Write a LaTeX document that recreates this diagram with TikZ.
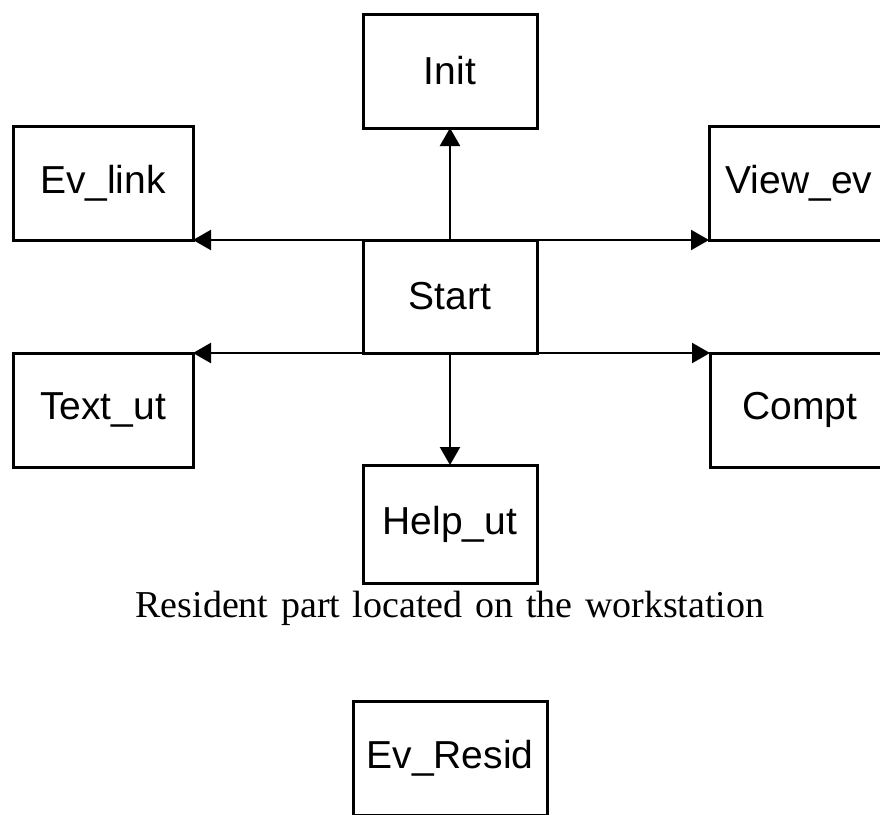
\documentclass[tikz,border=0pt]{standalone}
\usepackage{fontspec}
\setmainfont{Liberation Serif}
\setsansfont{Liberation Sans}
\usetikzlibrary{arrows.meta,positioning}
\tikzset{
  >={Triangle[length=9pt,width=10pt]},
  box/.style={draw,line width=1.5pt,rectangle,outer sep=0pt,minimum width=87pt,minimum height=57pt,inner sep=2pt,align=center,font=\sffamily\fontsize{19.5}{22}\selectfont},
  sidebox/.style={box,minimum width=90pt},
  residbox/.style={box,minimum width=97pt},
  arrow/.style={->,line width=1.2pt},
  caption/.style={font=\fontsize{19}{22}\selectfont,inner sep=0pt},
}

\begin{document}
\begin{tikzpicture}[x=0.5pt,y=-0.5pt]
\useasboundingbox (0,0) rectangle (880,815);

\node[box,minimum height=56.5pt] (start) at (450,296.5) {Start};
\node[box,above=56pt of start] (init) {Init};
\node[box,minimum height=59pt,below=56pt of start] (helput) {Help\_ut};

% side boxes hang off the corners of start
\node[sidebox,left=85pt of start.north west,anchor=south east] (evlink) {Ev\_link};
\node[sidebox,right=86pt of start.north east,anchor=south west] (viewev) {View\_ev};
\node[sidebox,left=85pt of start.south west,anchor=north east] (textut) {Text\_ut};
\node[sidebox,right=86.5pt of start.south east,anchor=north west] (compt) {Compt};

\draw[arrow] (start.north) -- (init.south);
\draw[arrow] (start.south) -- (helput.north);
\draw[arrow] (start.north west) -- (evlink.south east);
\draw[arrow] (start.north east) -- (viewev.south west);
\draw[arrow] (start.south west) -- (textut.north east);
\draw[arrow] (start.south east) -- (compt.north west);

\node[caption,text width=633pt*0.5,align=center] (resident) at (450,608) {Resident\ part\ located\ on\ the\ workstation};

\node[residbox,anchor=north] (evresid) at (450,701) {Ev\_Resid};

\end{tikzpicture}
\end{document}
